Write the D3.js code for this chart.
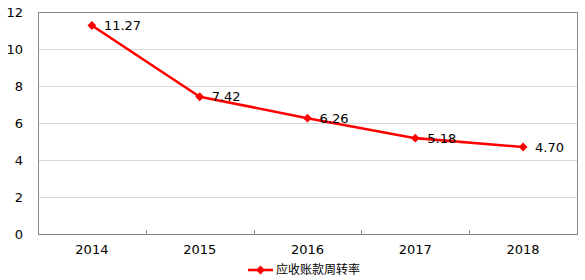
<!DOCTYPE html>
<html lang="zh">
<head>
<meta charset="utf-8">
<title>应收账款周转率</title>
<script src="https://d3js.org/d3.v7.min.js"></script>
<style>
  body { margin: 0; background: #fff; }
</style>
</head>
<body>
<div id="chart"></div>
<script>
// data
const years = ["2014", "2015", "2016", "2017", "2018"];
const turnover = [11.27, 7.42, 6.26, 5.18, 4.70];
const yTicks = [0, 2, 4, 6, 8, 10, 12];
const seriesName = "应收账款周转率";

const width = 585, height = 280;
const margin = {top: 12, right: 8, bottom: 46, left: 38};
const font = "'DejaVu Sans', Verdana, sans-serif";

const svg = d3.select("#chart").append("svg")
    .attr("width", width)
    .attr("height", height)
    .attr("font-family", font);

const x = d3.scaleBand()
    .domain(years)
    .range([margin.left, width - margin.right]);

const y = d3.scaleLinear()
    .domain([0, 12])
    .range([height - margin.bottom, margin.top]);

// gridlines
svg.append("g")
  .selectAll("line")
  .data(yTicks.filter(d => d > 0 && d < 12))
  .join("line")
    .attr("x1", margin.left)
    .attr("x2", width - margin.right)
    .attr("y1", d => y(d) + 0.5)
    .attr("y2", d => y(d) + 0.5)
    .attr("stroke", "#d9d9d9")
    .attr("stroke-width", 1);

// plot frame
svg.append("rect")
    .attr("x", margin.left + 0.5)
    .attr("y", margin.top + 0.5)
    .attr("width", width - margin.right - margin.left)
    .attr("height", height - margin.bottom - margin.top)
    .attr("fill", "none")
    .attr("stroke", "#868686")
    .attr("stroke-width", 1);

// y axis labels
svg.append("g")
  .selectAll("text")
  .data(yTicks)
  .join("text")
    .attr("x", 23)
    .attr("y", d => y(d))
    .attr("dy", "0.35em")
    .attr("text-anchor", "end")
    .attr("font-size", 13)
    .attr("fill", "#000")
    .text(d => d);

// x ticks between categories (pointing up)
svg.append("g")
  .selectAll("line")
  .data(years.slice(1))
  .join("line")
    .attr("x1", d => Math.round(x(d)) + 0.5)
    .attr("x2", d => Math.round(x(d)) + 0.5)
    .attr("y1", y(0))
    .attr("y2", y(0) - 4)
    .attr("stroke", "#868686");

// x labels
svg.append("g")
  .selectAll("text")
  .data(years)
  .join("text")
    .attr("x", d => x(d) + x.bandwidth() / 2)
    .attr("y", y(0) + 20)
    .attr("text-anchor", "middle")
    .attr("font-size", 13)
    .attr("fill", "#000")
    .text(d => d);

// line
const pts = years.map((d, i) => [x(d) + x.bandwidth() / 2, y(turnover[i])]);
svg.append("path")
    .datum(pts)
    .attr("d", d3.line())
    .attr("fill", "none")
    .attr("stroke", "#ff0000")
    .attr("stroke-width", 2.6)
    .attr("stroke-linejoin", "round");

const diamond = d3.symbol().type(d3.symbolDiamond2).size(50);
svg.append("g")
  .selectAll("path")
  .data(pts)
  .join("path")
    .attr("transform", d => `translate(${d[0]},${d[1]})`)
    .attr("d", diamond)
    .attr("fill", "#ff0000");

// value labels
svg.append("g")
  .selectAll("text")
  .data(pts)
  .join("text")
    .attr("x", d => d[0] + 12)
    .attr("y", d => d[1])
    .attr("dy", "0.35em")
    .attr("font-size", 13)
    .attr("fill", "#000")
    .text((d, i) => turnover[i].toFixed(2));

// legend
const lg = svg.append("g").attr("transform", "translate(248,270)");
lg.append("line")
    .attr("x1", 0).attr("x2", 25)
    .attr("stroke", "#ff0000")
    .attr("stroke-width", 2.6);
lg.append("path")
    .attr("transform", "translate(12.5,0)")
    .attr("d", diamond)
    .attr("fill", "#ff0000");
lg.append("text")
    .attr("x", 28)
    .attr("dy", "0.35em")
    .attr("font-size", 12)
    .attr("font-family", "'Noto Sans CJK SC', sans-serif")
    .attr("fill", "#000")
    .text(seriesName);
</script>
</body>
</html>
